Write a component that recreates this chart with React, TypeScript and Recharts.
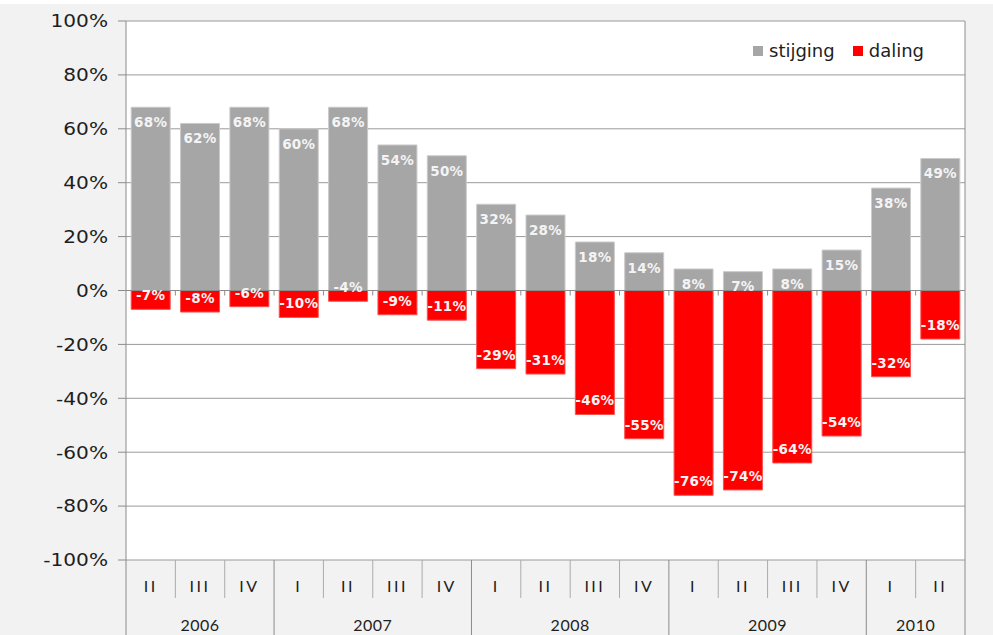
// Stijging / daling per kwartaal, 2006-II t/m 2010-II
import { BarChart, Bar, XAxis, YAxis, CartesianGrid, Legend, ReferenceLine, LabelList } from 'recharts'

const QUARTERS = ['II', 'III', 'IV', 'I', 'II', 'III', 'IV', 'I', 'II', 'III', 'IV', 'I', 'II', 'III', 'IV', 'I', 'II']
const YEARS = ['2006', '2006', '2006', '2007', '2007', '2007', '2007', '2008', '2008', '2008', '2008', '2009', '2009', '2009', '2009', '2010', '2010']
const STIJGING = [68, 62, 68, 60, 68, 54, 50, 32, 28, 18, 14, 8, 7, 8, 15, 38, 49]
const DALING = [-7, -8, -6, -10, -4, -9, -11, -29, -31, -46, -55, -76, -74, -64, -54, -32, -18]
const Y_TICKS = [-100, -80, -60, -40, -20, 0, 20, 40, 60, 80, 100]

const W = 993
const H = 631
const MARGIN = { top: 17, right: 28, bottom: 0, left: 0 }
const X_AXIS_H = 75
const Y_AXIS_W = 126
const PLOT_W = W - Y_AXIS_W - MARGIN.right
const PLOT_H = H - MARGIN.top - X_AXIS_H
const BAND = PLOT_W / QUARTERS.length

const GRID = '#9a9a9a'
const AXIS = '#8c8c8c'
const SEP = '#ababab'
const TEXT = '#1e1e1e'

const data = QUARTERS.map((q, i) => ({ q, year: YEARS[i], stijging: STIJGING[i], daling: DALING[i] }))

function YTick(props: any) {
  const { x, y, payload } = props
  return (
    <text transform={`translate(${x},${y}) scale(1.15,1)`} textAnchor="end" dy="0.36em"
          fontFamily="DejaVu Sans" fontSize={17.5} fill={TEXT}>
      {payload.value}%
    </text>
  )
}

function XTick(props: any) {
  const { x, y, payload } = props
  const i = props.index ?? payload.index
  const yearStart = i === 0 || YEARS[i] !== YEARS[i - 1]
  const left = x - BAND / 2
  let n = 0
  if (yearStart) while (YEARS[i + n] === YEARS[i]) n++
  const last = i === QUARTERS.length - 1
  return (
    <g>
      <line x1={left} x2={left} y1={y} y2={y + 80} stroke={yearStart ? AXIS : SEP}
            strokeDasharray={yearStart ? undefined : '38 100'} />
      {last && <line x1={x + BAND / 2} x2={x + BAND / 2} y1={y - PLOT_H} y2={y + 80} stroke={AXIS} />}
      <text x={x} y={y + 26} dy="0.35em" textAnchor="middle" fontFamily="Lato" fontSize={16}
            letterSpacing={2.5} fill={TEXT}>
        {payload.value}
      </text>
      {yearStart && (
        <text x={left + (n * BAND) / 2} y={y + 65} dy="0.35em" textAnchor="middle" fontFamily="Lato"
              fontSize={16} letterSpacing={0.5} fill={TEXT}>
          {YEARS[i]}
        </text>
      )}
    </g>
  )
}

// zero line with small tick marks at the category boundaries
function ZeroLine(p: any) {
  const { x1, y1, x2, y2 } = p
  const step = (x2 - x1) / QUARTERS.length
  return (
    <g>
      <line x1={x1} y1={y1} x2={x2} y2={y2} stroke={AXIS} strokeWidth={1.2} />
      {QUARTERS.slice(1).map((_, k) => (
        <line key={k} x1={x1 + step * (k + 1)} x2={x1 + step * (k + 1)} y1={y1} y2={y1 + 5} stroke={AXIS} />
      ))}
    </g>
  )
}

function barLabel(side: 'top' | 'bottom') {
  return (props: any) => {
    const vb = props.viewBox ?? props
    const { x, y, width, height } = vb
    const top = Math.min(y, y + height)
    const bottom = Math.max(y, y + height)
    const cy = side === 'top' ? top + 15 : bottom - 14
    return (
      <text x={x + width / 2} y={cy} dy="0.36em" textAnchor="middle" fontFamily="DejaVu Sans"
            fontWeight="bold" fontSize={13.5} letterSpacing={0.3} fill="#f4f4f4">
        {props.value}%
      </text>
    )
  }
}

function LegendBox() {
  const sw = { display: 'inline-block', width: 10, height: 10 }
  return (
    <div style={{ display: 'flex', alignItems: 'center', fontFamily: 'DejaVu Sans', fontSize: 18, color: TEXT, lineHeight: '22px' }}>
      <span style={{ ...sw, background: '#a6a6a6', marginRight: 6 }} />
      <span>stijging</span>
      <span style={{ ...sw, background: '#ff0000', marginLeft: 18, marginRight: 6 }} />
      <span>daling</span>
    </div>
  )
}

export default function App() {
  return (
    <div style={{ position: 'absolute', left: 0, top: 0, width: W, height: 635, background: '#ffffff' }}>
      <div style={{ position: 'absolute', left: 0, top: 4, width: W, height: H, background: '#f2f2f2' }}>
        <BarChart width={W} height={H} data={data} margin={MARGIN} stackOffset="sign" barCategoryGap="10.5%">
          <CartesianGrid vertical={false} stroke={GRID} fill="#ffffff" />
          <XAxis dataKey="q" interval={0} axisLine={false} tickLine={false} tickSize={0} tickMargin={0}
                 height={X_AXIS_H} tick={<XTick />} />
          <YAxis domain={[-100, 100]} ticks={Y_TICKS} width={Y_AXIS_W} interval={0}
                 axisLine={{ stroke: AXIS }} tickLine={{ stroke: AXIS }} tickSize={8} tickMargin={10}
                 tick={<YTick />} />
          <Legend layout="horizontal" verticalAlign="middle" align="center"
                  wrapperStyle={{ top: 36, left: 753, width: 230 }} content={() => <LegendBox />} />
          <Bar dataKey="stijging" stackId="s" fill="#a6a6a6" stroke="#cbcbcb" isAnimationActive={false}>
            <LabelList dataKey="stijging" content={barLabel('top')} />
          </Bar>
          <Bar dataKey="daling" stackId="s" fill="#ff0000" stroke="#ff5050" isAnimationActive={false}>
            <LabelList dataKey="daling" content={barLabel('bottom')} />
          </Bar>
          <ReferenceLine y={0} shape={<ZeroLine />} />
        </BarChart>
      </div>
    </div>
  )
}
